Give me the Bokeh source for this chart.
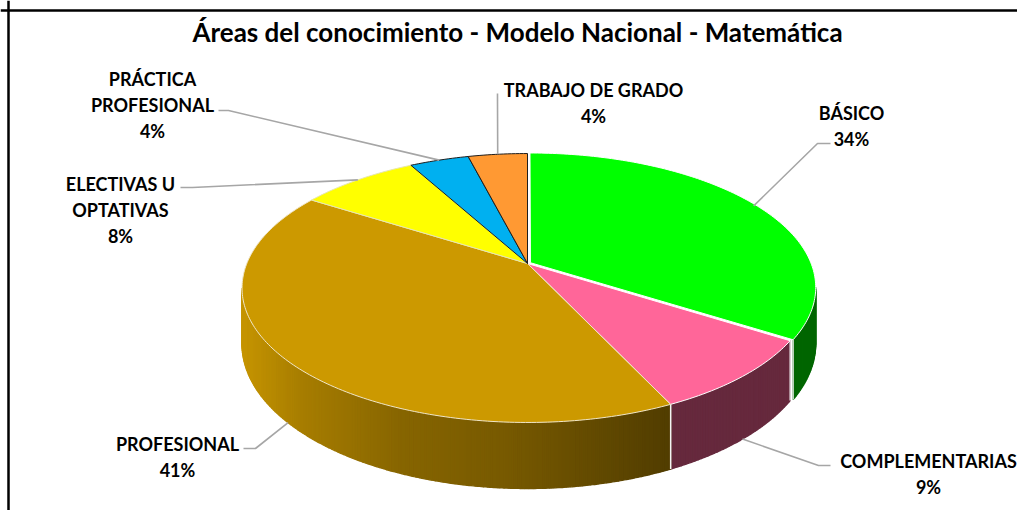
import numpy as np
from bokeh.plotting import figure
from bokeh.models import ColumnDataSource, Range1d, Span, Label
from bokeh.embed import file_html
from bokeh.resources import INLINE

# ---------------- data ----------------
categories = ["BÁSICO", "COMPLEMENTARIAS", "PROFESIONAL",
              "ELECTIVAS U\nOPTATIVAS", "PRÁCTICA\nPROFESIONAL", "TRABAJO DE GRADO"]
percent = [34, 9, 41, 8, 4, 4]
top_colors = ["#00ff00", "#ff6699", "#cc9900", "#ffff00", "#00b0f0", "#ff9933"]
edge_colors = ["#ffffff", "#ffffff", "#f0e6c8", "#e6e6b0", "#1e1e1e", "#1e1e1e"]
explode = [0.012, 0, 0, 0, 0, 0]
title_text = "Áreas del conocimiento - Modelo Nacional - Matemática"

# label layout (pixel positions)
label_x = [851, 928, 177, 120, 152, 593]
label_y = [112, 460, 443, 183, 78, 89]
elbow = [(817, 143), (818, 465), (255, 448), (192, 187), (228, 110), (497, 100)]
anchor = [(830, 143), (830, 465), (243, 448), (180, 187), (218, 110), (497, 93)]

# ---------------- 3D projection model ----------------
CX, CY = 527.0, 263.0      # projected centre of pie
A, B = 280.7, 130.0        # horizontal / vertical scale
K = 0.1822                 # perspective factor
DEPTH = 54.0               # thickness


def proj(u, v, drop=0.0):
    den = 1.0 + K * np.asarray(v)
    x = CX + A * np.asarray(u) / den
    y = CY - B * np.asarray(v) / den + drop * DEPTH / den
    return x, y


def shade(x):
    xs = [241, 300, 400, 510, 667, 812]
    fs = [0.97, 0.82, 0.66, 0.58, 0.40, 0.40]
    return float(np.interp(x, xs, fs))


def hex2rgb(h):
    h = h.lstrip("#")
    return tuple(int(h[i:i + 2], 16) for i in (0, 2, 4))


def rgb2hex(c):
    return "#%02x%02x%02x" % tuple(int(max(0, min(255, round(v)))) for v in c)


total = float(sum(percent))
starts, ends = [], []
cur = np.pi / 2
for p_ in percent:
    ang = 2 * np.pi * p_ / total
    starts.append(cur)
    ends.append(cur - ang)
    cur -= ang

vis_hi = -np.arcsin(K)
vis_lo = -np.pi + np.arcsin(K)

# ---------------- figure ----------------
W, H = 1017, 510
p = figure(width=W, height=H, x_range=Range1d(0, W), y_range=Range1d(H, 0),
           output_backend="svg", toolbar_location=None, min_border=0)
p.axis.visible = False
p.grid.visible = False
p.outline_line_color = None
p.background_fill_color = "white"
p.border_fill_color = "white"

# sides (gradient strips)
strip_xs, strip_ys, strip_col = [], [], []
edge_seg_x, edge_seg_y = [], []
for i in range(len(percent)):
    s, e = starts[i], ends[i]
    a0, a1 = min(s, vis_hi), max(e, vis_lo)
    if a0 <= a1:
        continue
    mid = (s + e) / 2
    eu, ev = explode[i] * np.cos(mid), explode[i] * np.sin(mid)
    base = hex2rgb(top_colors[i])
    n = max(6, int((a0 - a1) / np.pi * 260))
    ts = np.linspace(a0, a1, n + 1)
    for j in range(n):
        t = np.linspace(ts[j], ts[j + 1], 3)
        u, v = eu + np.cos(t), ev + np.sin(t)
        xt, yt = proj(u, v)
        xb, yb = proj(u, v, 1.0)
        xs = list(xt) + list(xb[::-1])
        ys = list(yt) + list(yb[::-1])
        f = shade(float(np.mean(xt)))
        strip_xs.append(xs)
        strip_ys.append(ys)
        strip_col.append(rgb2hex([c * f for c in base]))
    for t in (a0, a1):
        if vis_lo < t < vis_hi:
            u, v = eu + np.cos(t), ev + np.sin(t)
            xt, yt = proj(u, v)
            xb, yb = proj(u, v, 1.0)
            edge_seg_x.append([float(xt), float(xb)])
            edge_seg_y.append([float(yt), float(yb)])

p.patches(xs="xs", ys="ys", fill_color="c", line_color="c", line_width=1.4,
          source=ColumnDataSource(dict(xs=strip_xs, ys=strip_ys, c=strip_col)))
p.multi_line(xs=edge_seg_x, ys=edge_seg_y, line_color="#f4f4f4", line_width=1.3)

# top faces
top_xs, top_ys = [], []
for i in range(len(percent)):
    s, e = starts[i], ends[i]
    mid = (s + e) / 2
    eu, ev = explode[i] * np.cos(mid), explode[i] * np.sin(mid)
    t = np.linspace(s, e, max(8, int((s - e) / (2 * np.pi) * 400)))
    u = np.concatenate([[eu], eu + np.cos(t)])
    v = np.concatenate([[ev], ev + np.sin(t)])
    x, y = proj(u, v)
    top_xs.append(list(x))
    top_ys.append(list(y))

p.patches(xs="xs", ys="ys", fill_color="fc", line_color="lc", line_width=1.0,
          source=ColumnDataSource(dict(xs=top_xs, ys=top_ys, fc=top_colors, lc=edge_colors)))

# leader lines
lead_xs, lead_ys = [], []
for i in range(len(percent)):
    mid = (starts[i] + ends[i]) / 2
    u, v = np.cos(mid), np.sin(mid)
    drop = 1.0 if (vis_lo < mid < vis_hi) else 0.0
    x0, y0 = proj(u, v, drop)
    lead_xs.append([float(x0), elbow[i][0], anchor[i][0]])
    lead_ys.append([float(y0), elbow[i][1], anchor[i][1]])
p.multi_line(xs=lead_xs, ys=lead_ys, line_color="#a6a6a6", line_width=1.6)

# labels
lx, ly, lt = [], [], []
for i in range(len(percent)):
    lines = categories[i].split("\n") + ["%d%%" % percent[i]]
    for k, line in enumerate(lines):
        lx.append(label_x[i])
        ly.append(label_y[i] + 26 * k)
        lt.append(line)
p.text(x="x", y="y", text="t", source=ColumnDataSource(dict(x=lx, y=ly, t=lt)),
       text_align="center", text_baseline="middle", text_font_size="18px",
       text_font_style="bold", text_color="#000000", text_font={"value": "Lato"})

# title
p.add_layout(Label(x=517, y=31, text=title_text, text_align="center",
                   text_baseline="middle", text_font="Lato", text_font_style="bold",
                   text_font_size="26px", text_color="#000000"))

# chart frame (cropped)
p.add_layout(Span(location=8, dimension="height", line_color="#000000", line_width=2.5))
p.add_layout(Span(location=10, dimension="width", line_color="#000000", line_width=2.5))

open("out.html", "w").write(file_html(p, INLINE))
